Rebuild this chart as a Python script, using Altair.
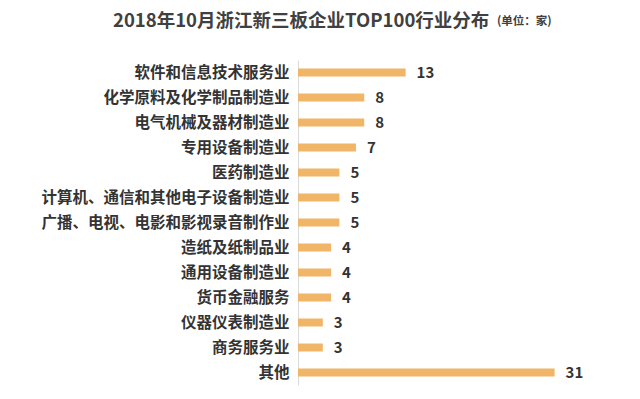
import altair as alt
import pandas as pd

industries = [
    "软件和信息技术服务业",
    "化学原料及化学制品制造业",
    "电气机械及器材制造业",
    "专用设备制造业",
    "医药制造业",
    "计算机、通信和其他电子设备制造业",
    "广播、电视、电影和影视录音制作业",
    "造纸及纸制品业",
    "通用设备制造业",
    "货币金融服务",
    "仪器仪表制造业",
    "商务服务业",
    "其他",
]
counts = [13, 8, 8, 7, 5, 5, 5, 4, 4, 4, 3, 3, 31]

title_text = "2018年10月浙江新三板企业TOP100行业分布"
unit_text = "(单位：家)"

df = pd.DataFrame({"industry": industries, "count": counts})

FONT = "Noto Sans CJK SC"
BAR = "#F0B567"
TXT = "#333333"

y_enc = alt.Y(
    "industry:N",
    sort=industries,
    title=None,
    scale=alt.Scale(paddingInner=0.68, paddingOuter=0.34),
    axis=alt.Axis(
        domain=True, domainColor="#d9d9d9", ticks=False, grid=False,
        labelFont=FONT, labelFontSize=15.5, labelFontWeight="bold",
        labelColor=TXT, labelPadding=9, labelLimit=400,
    ),
)
x_enc = alt.X("count:Q", title=None, axis=None,
              scale=alt.Scale(domain=[0, 36], nice=False))

bars = alt.Chart(df).mark_bar(color=BAR).encode(x=x_enc, y=y_enc)
labels = alt.Chart(df).mark_text(
    align="left", baseline="middle", dx=11, font=FONT, fontSize=15,
    fontWeight="bold", color=TXT,
).encode(x=x_enc, y=y_enc, text="count:Q")

title = alt.Chart(pd.DataFrame({"t": [title_text]})).mark_text(
    align="left", baseline="middle", font=FONT, fontSize=18.5,
    fontWeight="bold", color="#404040",
).encode(x=alt.value(-185), y=alt.value(-39), text="t:N")

unit = alt.Chart(pd.DataFrame({"t": [unit_text]})).mark_text(
    align="left", baseline="middle", font=FONT, fontSize=11.5,
    fontWeight="bold", color="#404040",
).encode(x=alt.value(199), y=alt.value(-38), text="t:N")

chart = alt.layer(bars, labels, title, unit).properties(
    width=298,
    height=325,
    autosize=alt.AutoSizeParams(type="none"),
    padding={"left": 290, "top": 52, "right": 20, "bottom": 10},
).configure(background="white", view=alt.ViewConfig(stroke=None))

chart.save("out.html", embed_options={"renderer": "svg", "actions": False})
